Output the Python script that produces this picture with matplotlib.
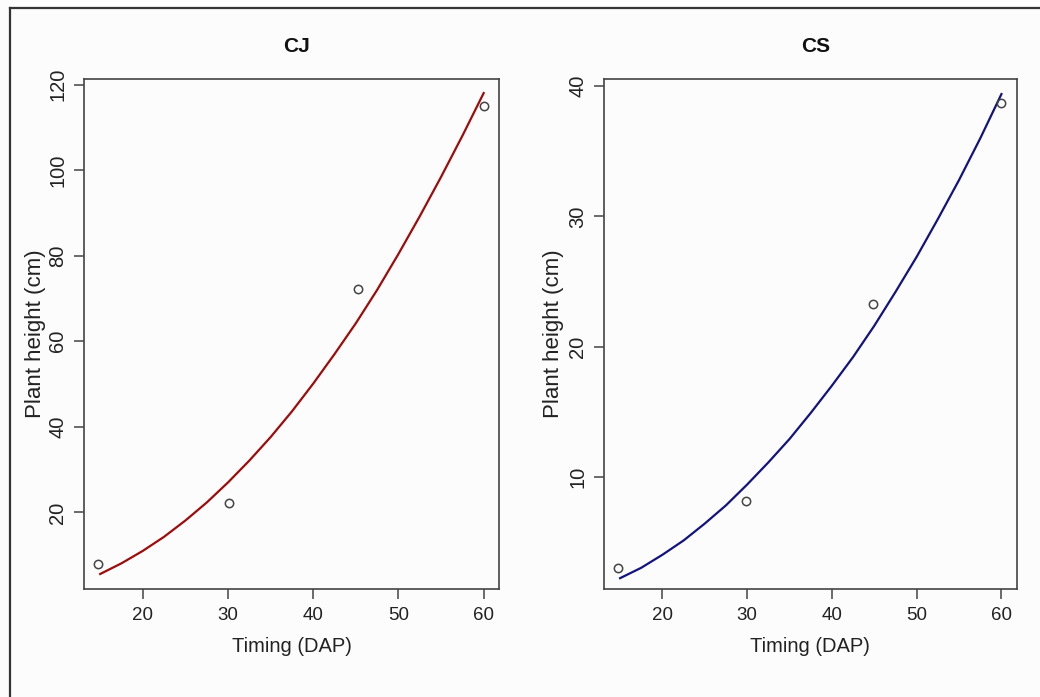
import matplotlib
matplotlib.use("Agg")
import matplotlib.pyplot as plt
from matplotlib.lines import Line2D

plt.rcParams['font.family'] = ['Liberation Sans', 'DejaVu Sans']

# observed plant heights
cj_days = [14.7, 30.1, 45.3, 60.0]
cj_height = [7.9, 22.2, 72.1, 115.0]
cs_days = [14.8, 29.9, 44.8, 60.0]
cs_height = [2.96, 8.16, 23.3, 38.7]

# fitted curves, every 2.5 days
fit_days = [15, 17.5, 20, 22.5, 25, 27.5, 30, 32.5, 35, 37.5,
            40, 42.5, 45, 47.5, 50, 52.5, 55, 57.5, 60]
cj_fit = [5.6, 8.1, 11.0, 14.3, 18.1, 22.3, 27.0, 32.1, 37.6, 43.6,
          50.1, 57.0, 64.2, 72.0, 80.4, 89.2, 98.4, 108.0, 118.0]
cs_fit = [2.2, 3.0, 4.0, 5.1, 6.4, 7.8, 9.4, 11.1, 12.9, 14.9,
          17.0, 19.2, 21.6, 24.2, 26.9, 29.8, 32.8, 36.0, 39.4]

x_ticks = [20, 30, 40, 50, 60]
cj_yticks = [20, 40, 60, 80, 100, 120]
cs_yticks = [10, 20, 30, 40]

bg = '#fcfcfc'
fig = plt.figure(figsize=(10.4, 6.97), dpi=100, facecolor=bg)

# cropped outer frame: only left and top edges show
fig.add_artist(Line2D([10 / 1040, 10 / 1040], [0, 1 - 8 / 697], color='#333333', lw=1.6))
fig.add_artist(Line2D([10 / 1040, 1], [1 - 8 / 697, 1 - 8 / 697], color='#333333', lw=1.6))

panels = [
    dict(rect=[84 / 1040, 0.155, 415 / 1040, 0.7317], title='CJ',
         x=cj_days, y=cj_height, fy=cj_fit, col='#9e0b0b',
         ylim=(2.1, 121.3), yticks=cj_yticks, ylab_x=-0.118, tx=0.513),
    dict(rect=[604 / 1040, 0.155, 412.7 / 1040, 0.7317], title='CS',
         x=cs_days, y=cs_height, fy=cs_fit, col='#13137f',
         ylim=(1.37, 40.56), yticks=cs_yticks, ylab_x=-0.122, tx=0.514),
]

for p in panels:
    ax = fig.add_axes(p['rect'])
    ax.set_facecolor(bg)
    ax.plot(fit_days, p['fy'], color=p['col'], lw=1.6, zorder=2)
    ax.plot(p['x'], p['y'], 'o', mfc='none', mec='#444444', mew=1.1, ms=6, zorder=3)

    ax.set_xlim(13.1, 61.8)
    ax.set_ylim(*p['ylim'])
    ax.set_xticks(x_ticks)
    ax.set_yticks(p['yticks'])

    for s in ax.spines.values():
        s.set_color('#444444')
        s.set_linewidth(1.2)

    ax.tick_params(axis='both', color='#444444', width=1.1, length=7, labelcolor='#222222')
    ax.tick_params(axis='x', labelsize=13.5, pad=6)
    ax.tick_params(axis='y', labelsize=14.5, pad=5, labelrotation=90)
    for lab in ax.get_yticklabels():
        lab.set_va('center')

    ax.set_xlabel('Timing (DAP)', fontsize=14.5, color='#222222')
    ax.xaxis.set_label_coords(0.5, -0.113)
    ax.xaxis.label.set_va('center')
    ax.set_ylabel('Plant height (cm)', fontsize=16, color='#222222')
    ax.yaxis.set_label_coords(p['ylab_x'], 0.5)
    ax.yaxis.label.set_va('center')

    ax.text(p['tx'], 1.063, p['title'], transform=ax.transAxes, ha='center', va='center',
            fontsize=15, fontweight='bold', color='#111111')

fig.savefig('out.png', dpi=100, facecolor=bg)
